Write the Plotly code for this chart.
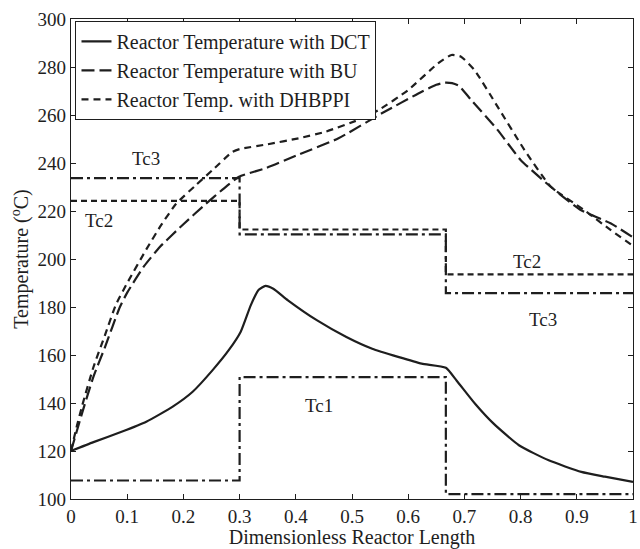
import plotly.graph_objects as go

# Reactor temperature profiles along the dimensionless reactor length
x_dct = [0, 0.04, 0.09, 0.134, 0.181, 0.2165, 0.252, 0.281, 0.302, 0.32, 0.334,
         0.346, 0.36, 0.386, 0.438, 0.49, 0.536, 0.582, 0.624, 0.667, 0.686,
         0.719, 0.752, 0.797, 0.85, 0.908, 0.95, 1.0]
t_dct = [120, 123.7, 128, 132.2, 138.5, 144.7, 153.7, 162.1, 169.7, 180.8, 187.2,
         188.8, 187.6, 182.8, 174.4, 167.5, 162.6, 159.2, 156.4, 154.7, 149.4,
         139.7, 131.4, 122.4, 116.1, 111.3, 109.3, 107.1]

x_bu = [0, 0.01, 0.02, 0.04, 0.06, 0.087, 0.1, 0.13, 0.158, 0.2, 0.24, 0.27,
        0.299, 0.346, 0.405, 0.476, 0.553, 0.624, 0.65, 0.665, 0.678, 0.69,
        0.712, 0.759, 0.8, 0.854, 0.907, 0.96, 1.0]
t_bu = [120, 128, 136, 151, 163, 180, 186, 197, 205, 214.5, 223, 229,
        234.3, 237.8, 243.5, 250.3, 260.7, 269.7, 272.6, 273.5, 273.3, 272.2,
        266.3, 253.8, 241.3, 230, 220.4, 214.9, 209]

x_dh = [0, 0.01, 0.02, 0.04, 0.06, 0.08, 0.1, 0.134, 0.16, 0.187, 0.22, 0.252,
        0.287, 0.3, 0.35, 0.405, 0.4525, 0.5115, 0.547, 0.6, 0.653, 0.677,
        0.694, 0.718, 0.759, 0.807, 0.854, 0.913, 0.96, 1.0]
t_dh = [120, 130, 139, 155, 168, 181, 190, 204, 214, 223, 230.3, 237.1,
        244.6, 245.8, 247.8, 250.3, 253, 258, 262, 270.4, 281.5, 285,
        284.3, 278.7, 263.5, 245.4, 230.1, 220.4, 212.1, 205.5]

# Coolant temperature set points per reactor zone
zone_x = [0, 0.3, 0.3, 0.667, 0.667, 1.0]
tc1 = [107.7, 107.7, 150.8, 150.8, 102, 102]
tc2 = [224.2, 224.2, 212.3, 212.3, 193.6, 193.6]
tc3 = [233.7, 233.7, 210.3, 210.3, 185.8, 185.8]

# Zone labels: (text, x, y)
zone_labels = [("Tc3", 0.133, 242), ("Tc2", 0.05, 216), ("Tc2", 0.812, 199),
               ("Tc3", 0.84, 175), ("Tc1", 0.442, 139)]

ink = "#1e1e1e"
serif = "Liberation Serif"

fig = go.Figure()
fig.add_trace(go.Scatter(x=x_dct, y=t_dct, mode="lines", name="Reactor Temperature with DCT",
                         line=dict(color=ink, width=2.2, dash="solid", shape="spline", smoothing=0.5)))
fig.add_trace(go.Scatter(x=x_bu, y=t_bu, mode="lines", name="Reactor Temperature with BU",
                         line=dict(color=ink, width=2.2, dash="13px,5px", shape="spline", smoothing=0.5)))
fig.add_trace(go.Scatter(x=x_dh, y=t_dh, mode="lines", name="Reactor Temp. with DHBPPI",
                         line=dict(color=ink, width=2.2, dash="7px,5px", shape="spline", smoothing=0.5)))

fig.add_trace(go.Scatter(x=zone_x, y=tc1, mode="lines", showlegend=False,
                         line=dict(color=ink, width=2.2, dash="12px,4px,3px,4px")))
fig.add_trace(go.Scatter(x=zone_x, y=tc2, mode="lines", showlegend=False,
                         line=dict(color=ink, width=2.2, dash="6px,4px")))
fig.add_trace(go.Scatter(x=zone_x, y=tc3, mode="lines", showlegend=False,
                         line=dict(color=ink, width=2.2, dash="12px,4px,3px,4px")))

for text, lx, ly in zone_labels:
    fig.add_annotation(x=lx, y=ly, text=text, showarrow=False,
                       font=dict(family=serif, size=19, color=ink))

axis_common = dict(showline=True, linecolor=ink, linewidth=1.2, mirror="ticks",
                   ticks="inside", ticklen=5, tickcolor=ink, tickwidth=1,
                   showgrid=False, zeroline=False, ticklabeloverflow="allow",
                   tickfont=dict(family=serif, size=19, color=ink))

fig.update_xaxes(range=[0, 1], tickvals=[i / 10 for i in range(11)],
                 ticktext=["0", "0.1", "0.2", "0.3", "0.4", "0.5", "0.6", "0.7", "0.8", "0.9", "1"],
                 title=dict(text="Dimensionless Reactor Length", standoff=4,
                            font=dict(family=serif, size=20, color=ink)),
                 **axis_common)
fig.update_yaxes(range=[100, 300], tickvals=list(range(100, 301, 20)),
                 title=dict(text="Temperature (<sup>o</sup>C)", standoff=3,
                            font=dict(family=serif, size=20, color=ink)),
                 **axis_common)

fig.update_layout(
    width=640, height=549,
    margin=dict(l=71, r=2, t=19, b=50),
    plot_bgcolor="white", paper_bgcolor="white",
    legend=dict(x=0.008, y=0.996, xanchor="left", yanchor="top",
                bgcolor="white", bordercolor=ink, borderwidth=1,
                font=dict(family=serif, size=20, color=ink),
                tracegroupgap=0),
)

fig.write_html("out.html")
